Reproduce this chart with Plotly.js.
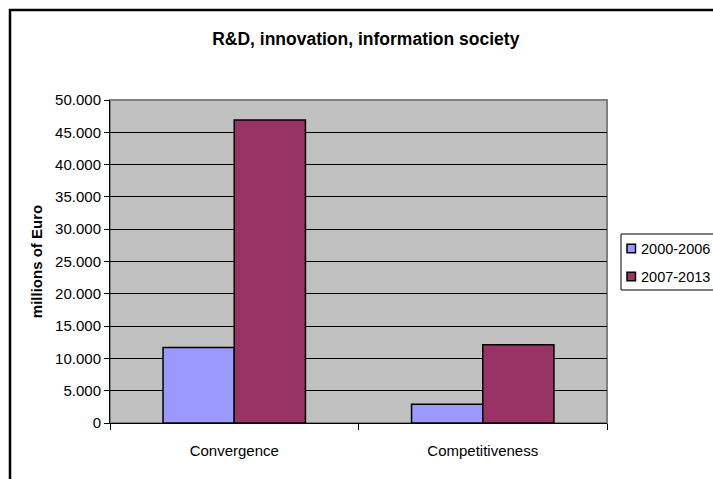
<!DOCTYPE html>
<html>
<head>
<meta charset="utf-8">
<script src="https://cdn.plot.ly/plotly-3.0.1.min.js"></script>
<style>html,body{margin:0;padding:0;background:#fff;}#chart{width:713px;height:479px;}</style>
</head>
<body>
<div id="chart"></div>
<script>
const categories = ["Convergence", "Competitiveness"];
const series2000 = [11700, 2900];
const series2007 = [46900, 12100];
const seriesNames = ["2000-2006", "2007-2013"];
const seriesColors = ["#9999FF", "#993366"];
const yTicks = [0, 5000, 10000, 15000, 20000, 25000, 30000, 35000, 40000, 45000, 50000];

const font = "Liberation Sans, Arial, sans-serif";
const M = {l: 110, r: 106, t: 100, b: 56};
const W = 713, H = 479;
const pw = W - M.l - M.r, ph = H - M.t - M.b;
const px = v => (v - M.l) / pw;
const py = v => (H - M.b - v) / ph;

const traces = [series2000, series2007].map((vals, i) => ({
  type: "bar", name: seriesNames[i], x: categories, y: vals, showlegend: false,
  marker: {color: seriesColors[i], line: {color: "#000", width: 1.5}}
}));

const shapes = [
  {type: "rect", xref: "paper", yref: "paper", x0: 0, x1: 1, y0: 0, y1: 1,
   line: {color: "#808080", width: 2}, layer: "below"},
  {type: "rect", xref: "paper", yref: "paper", x0: px(10), x1: px(760), y0: py(520), y1: py(10),
   line: {color: "#000", width: 2.5}, fillcolor: "rgba(0,0,0,0)", layer: "above"},
  {type: "rect", xref: "paper", yref: "paper", x0: px(621), x1: px(740), y0: py(290), y1: py(234),
   line: {color: "#000", width: 1}, fillcolor: "#fff", layer: "above"}
];
const annotations = [];
const rowY = [248.5, 276.5];
seriesNames.forEach((n, i) => {
  shapes.push({type: "rect", xref: "paper", yref: "paper",
    x0: px(627), x1: px(635.5), y0: py(rowY[i] + 4.25), y1: py(rowY[i] - 4.25),
    line: {color: "#000", width: 1.5}, fillcolor: seriesColors[i], layer: "above"});
  annotations.push({xref: "paper", yref: "paper", x: px(639), y: py(rowY[i]),
    xanchor: "left", yanchor: "middle", text: n, showarrow: false,
    font: {family: font, size: 14.5, color: "#000"}});
});

const layout = {
  width: W, height: H,
  margin: Object.assign({autoexpand: false}, M),
  paper_bgcolor: "#fff", plot_bgcolor: "#C0C0C0",
  separators: ",.",
  showlegend: false,
  font: {family: font, size: 15, color: "#000"},
  title: {text: "<b>R&D, innovation, information society</b>", font: {family: font, size: 17.5, color: "#000"},
          x: 0.513, xref: "container", y: 1 - 39 / H, yref: "container", yanchor: "middle"},
  barmode: "group", bargap: 0.427, bargroupgap: 0,
  xaxis: {showgrid: false, showline: true, linecolor: "#000", linewidth: 1,
          ticks: "outside", ticklen: 6, tickcolor: "#000", tickson: "boundaries",
          tickfont: {size: 15}, ticklabelstandoff: 14, fixedrange: true},
  yaxis: {range: [0, 50000], tickvals: yTicks, tickformat: ",d", showgrid: true,
          gridcolor: "#000", gridwidth: 1, showline: true, linecolor: "#000", linewidth: 1,
          ticks: "outside", ticklen: 5, tickcolor: "#000", zeroline: false,
          tickfont: {size: 15},
          title: {text: "<b>millions of Euro</b>", font: {size: 15}, standoff: 8}},
  shapes: shapes,
  annotations: annotations
};
Plotly.newPlot("chart", traces, layout, {staticPlot: true});
</script>
</body>
</html>
